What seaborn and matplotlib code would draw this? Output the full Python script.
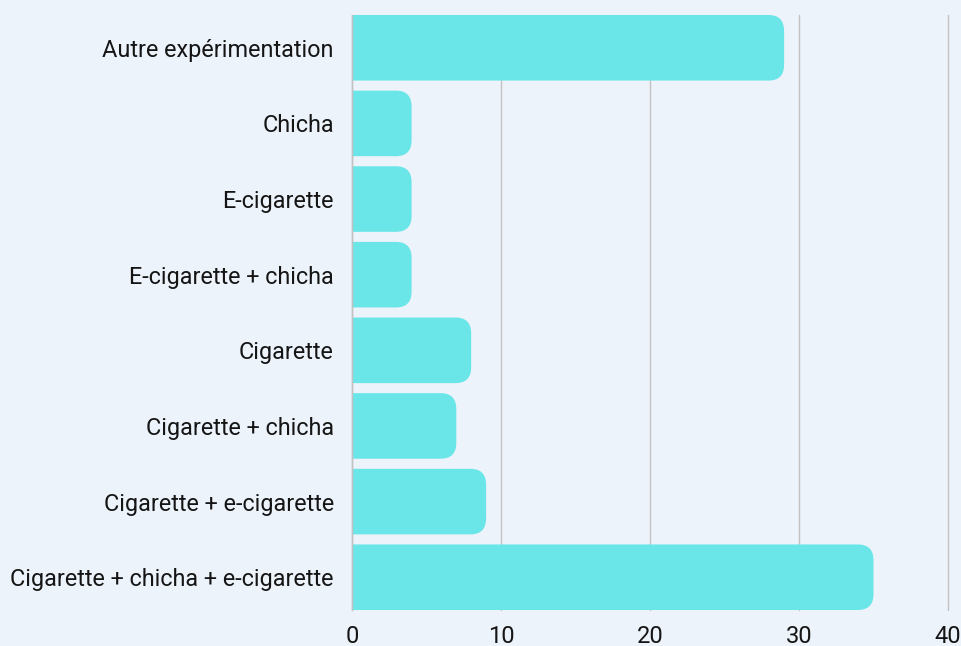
import matplotlib
matplotlib.use("Agg")
import matplotlib.pyplot as plt
from matplotlib.patches import FancyBboxPatch
import pandas as pd
import seaborn as sns

categories = [
    "Autre expérimentation",
    "Chicha",
    "E-cigarette",
    "E-cigarette + chicha",
    "Cigarette",
    "Cigarette + chicha",
    "Cigarette + e-cigarette",
    "Cigarette + chicha + e-cigarette",
]
counts = [29, 4, 4, 4, 8, 7, 9, 35]
x_ticks = [0, 10, 20, 30, 40]

BG = "#edf3fa"
BAR = "#6be6e8"
BAR_W = 0.867

sns.set_style("white")
plt.rcParams["font.family"] = ["Roboto", "DejaVu Sans"]

df = pd.DataFrame({"type": categories, "n": counts})

fig = plt.figure(figsize=(9.62, 6.46), dpi=100, facecolor=BG)
ax = fig.add_axes([352 / 962, 1 - 610 / 646, 596 / 962, 595 / 646])
ax.set_facecolor(BG)

sns.barplot(data=df, x="n", y="type", orient="h", color=BAR, width=BAR_W,
            saturation=1, ax=ax, zorder=2)
ax.set_xlim(0, 40)
ax.set_ylim(len(categories) - 1 + BAR_W / 2, -BAR_W / 2)

# swap seaborn's bars for ones rounded on the right end;
# the left end starts past x=0 so the axes clip its rounded corners away
rx = 1.05    # radius in x data units (~15 px)
ry = 0.21    # radius in y data units
for p in list(ax.patches):
    x0, y0 = p.get_x(), p.get_y()
    w, h = p.get_width(), p.get_height()
    p.set_visible(False)
    ax.add_patch(FancyBboxPatch((x0 - 2 * rx, y0), w + 2 * rx, h,
                                boxstyle=f"round,pad=0,rounding_size={rx}",
                                mutation_aspect=ry / rx,
                                fc=BAR, ec="none", zorder=2))

ax.set_xticks(x_ticks)
ax.xaxis.grid(True, color="#c2c2c2", linewidth=1, zorder=0)
for gl in ax.get_xgridlines():
    gl.set_clip_on(False)   # keep the line at 40 whole on the right edge
ax.set_axisbelow(True)
for s in ["top", "right", "bottom"]:
    ax.spines[s].set_visible(False)
ax.spines["left"].set_color("#c2c2c2")
ax.spines["left"].set_linewidth(1)
ax.spines["left"].set_zorder(3)
ax.set_xlabel("")
ax.set_ylabel("")
ax.tick_params(axis="y", length=0, pad=13, labelsize=16.8, labelcolor="#151515")
ax.tick_params(axis="x", length=0, pad=10.5, labelsize=17, labelcolor="#151515")

fig.savefig("out.png", dpi=100, facecolor=BG)
